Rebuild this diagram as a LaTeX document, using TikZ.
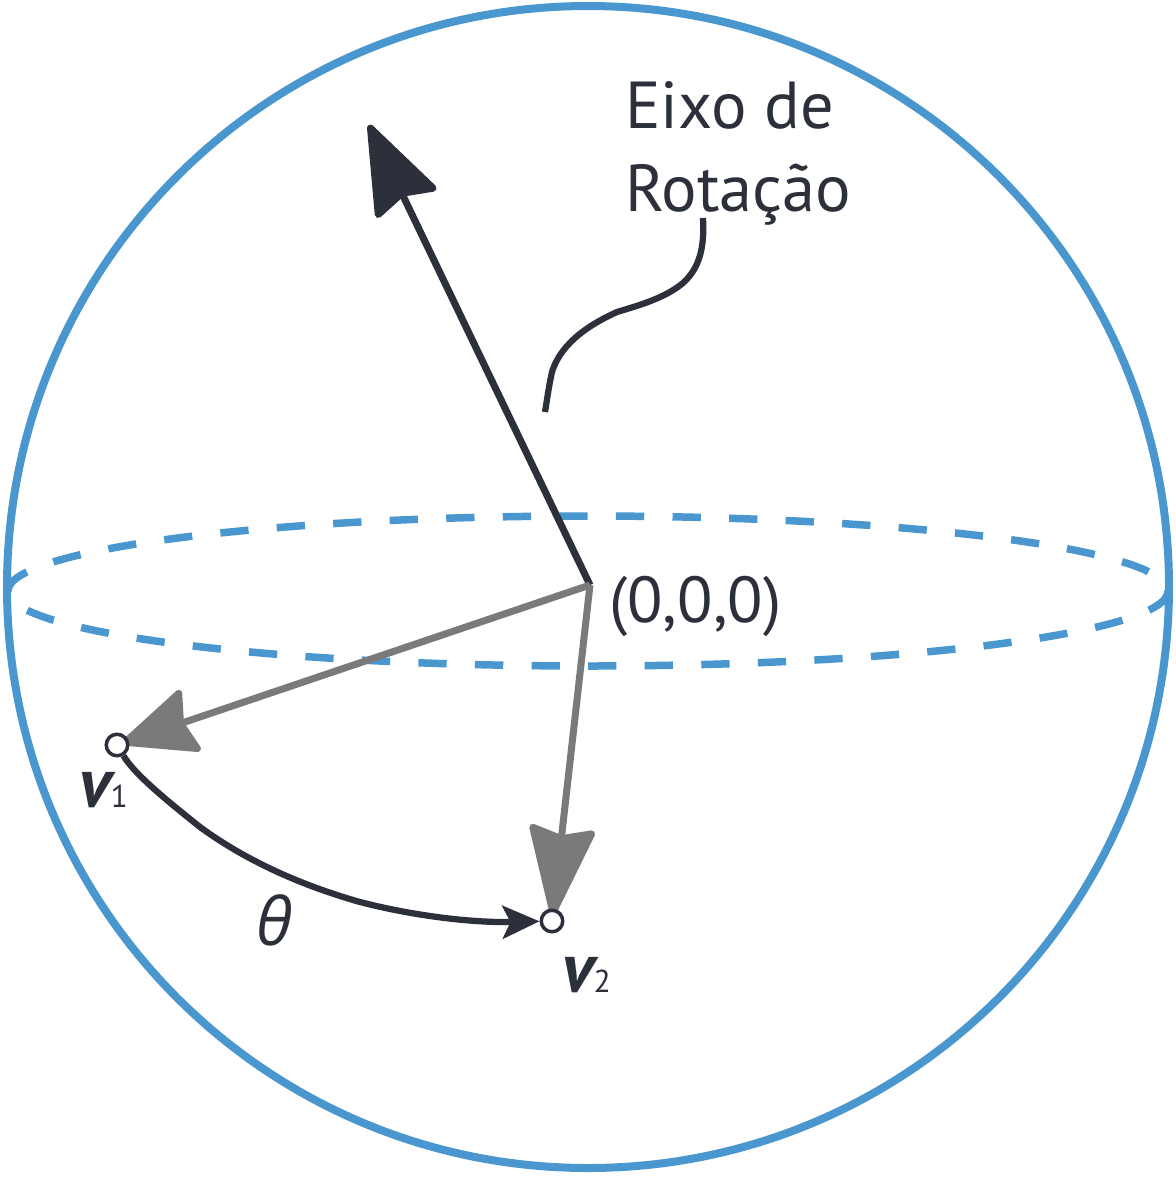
\documentclass[tikz,border=0pt]{standalone}
\usepackage{fontspec}
\setmainfont{PT Sans}
\newfontfamily\thetafont{Open Sans}
\usetikzlibrary{arrows.meta,backgrounds}
\definecolor{darkink}{HTML}{2B303A}
\definecolor{sphereblue}{HTML}{4A97CF}
\definecolor{vecgray}{HTML}{7A7A7A}
\begin{document}
\begin{tikzpicture}[
	x = 0.02cm, y = -0.02cm, % one unit is one pixel of the reference
	sphereline/.style = {draw=sphereblue, line width=0.16cm},
	equator/.style = {draw=sphereblue, line width=0.15cm, dash pattern=on 0.566cm off 0.566cm},
	axisvec/.style = {draw=darkink, line width=0.14cm, -{Stealth[length=1.92cm, width=1.42cm, inset=0.2cm, round]}},
	grayvec/.style = {draw=vecgray, line width=0.14cm, shorten >=-0.15cm, -{Stealth[length=#1, width=1.38cm, inset=0.18cm, round]}},
	arcvec/.style = {draw=darkink, line width=0.125cm, -{Stealth[length=0.74cm, width=0.66cm, inset=0.16cm]}},
	leader/.style = {draw=darkink, line width=0.125cm},
	endpoint/.style = {circle, draw=darkink, fill=white, line width=0.07cm, minimum size=0.43cm, inner sep=0pt},
	label/.style = {text=darkink, font=\fontsize{37.8}{47.2}\selectfont, inner sep=0pt},
	veclabel/.style = {text=darkink, font=\fontsize{40}{40}\selectfont, inner sep=0pt}
	]
	\useasboundingbox (0,0) rectangle (1176,1184);

	\coordinate (center) at (588,587);
	\coordinate (origin) at (590,585);
	\coordinate (axistip) at (369,125);
	\coordinate (leaderstart) at (703,218);
	\coordinate (leaderend) at (545,412);

	\node[endpoint] (v1) at (117,745) {};
	\node[endpoint] (v2) at (552,921) {};
	\node[label, font=\fontsize{37}{47}\selectfont, anchor=west] (origintext) at (609,606) {(0,0,0)};
	\node[label, align=left, anchor=north west] (axistext) at (625,81) {Eixo de\\Rotação};
	\node[veclabel, anchor=base west] (v1text) at (79,807) {\textbf{\textit{v}}\kern-3pt{\fontsize{18}{18}\selectfont 1}};
	\node[veclabel, anchor=base west] (v2text) at (562,992) {\textbf{\textit{v}}\kern-3pt{\fontsize{18}{18}\selectfont 2}};
	\node[label, anchor=base] (thetatext) at (275,945) {\thetafont\itshape θ};

	% lines go under the end point circles
	\begin{scope}[on background layer]
		\draw[sphereline] (center) circle [radius=581];
		\draw[equator] (588,591) ellipse [x radius=580, y radius=75];
		\draw[axisvec] (origin) -- (axistip);
		\draw[grayvec=1.6cm] (origin) -- (v1);
		\draw[grayvec=1.95cm] (origin) -- (v2);
		\draw[arcvec] (v1) .. controls (135,775) and (170,803) .. (200,827)
			.. controls (245,860) and (300,885) .. (360,902)
			.. controls (410,915) and (470,923) .. (v2);
		\draw[leader] (leaderstart) .. controls (704,240) and (703,265) .. (683,283)
			.. controls (665,298) and (640,305) .. (617,312)
			.. controls (595,322) and (562,340) .. (552,372)
			.. controls (549,385) and (547,400) .. (leaderend);
	\end{scope}
\end{tikzpicture}
\end{document}
